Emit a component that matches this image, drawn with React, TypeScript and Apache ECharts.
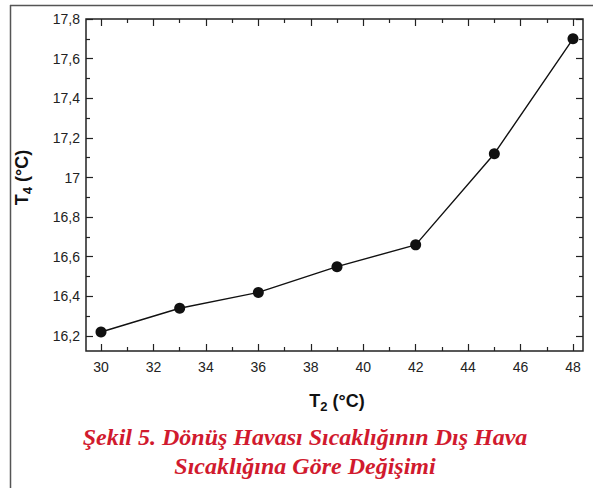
import React, { useEffect, useRef } from "react";
import * as echarts from "echarts";

const xValues = [30, 33, 36, 39, 42, 45, 48];
const yValues = [16.22, 16.34, 16.42, 16.55, 16.66, 17.12, 17.7];
const captionLines = [
  "Şekil 5. Dönüş Havası Sıcaklığının Dış Hava",
  "Sıcaklığına Göre Değişimi",
];

const fmtY = (v: number) => {
  const r = Math.round(v * 10) / 10;
  return (Number.isInteger(r) ? String(r) : r.toFixed(1)).replace(".", ",");
};

export default function App() {
  const ref = useRef<HTMLDivElement>(null);
  useEffect(() => {
    const chart = echarts.init(ref.current!, null, { renderer: "svg" });
    const tickStyle = { color: "#222", width: 1.2 };
    const labelFont = { fontFamily: "Liberation Sans", fontSize: 14, color: "#222" };
    const nameRich = {
      a: { fontFamily: "Liberation Sans", fontSize: 18, fontWeight: "bold", color: "#111", lineHeight: 24, verticalAlign: "middle" },
      b: { fontFamily: "Liberation Sans", fontSize: 13, fontWeight: "bold", color: "#111", lineHeight: 24, verticalAlign: "bottom", padding: [7, 0, 0, 0] },
    };
    chart.setOption({
      animation: false,
      grid: { left: 101, right: 20, top: 19, bottom: 152 },
      xAxis: [
        {
          type: "value",
          min: 30,
          max: 48,
          interval: 2,
          position: "bottom",
          offset: 15,
          axisLine: { show: false },
          axisTick: { show: true, inside: true, length: 7, lineStyle: tickStyle },
          minorTick: { show: true, splitNumber: 2, length: 4, lineStyle: tickStyle },
          splitLine: { show: false },
          axisLabel: { ...labelFont, margin: 9 },
          name: "{a|T}{b|2}{a| (°C)}",
          nameLocation: "middle",
          nameGap: 38,
          nameTextStyle: { rich: nameRich },
        },
        {
          type: "value",
          min: 30,
          max: 48,
          interval: 2,
          position: "top",
          axisLine: { show: false },
          axisTick: { show: true, inside: true, length: 7, lineStyle: tickStyle },
          minorTick: { show: true, splitNumber: 2, length: 4, lineStyle: tickStyle },
          splitLine: { show: false },
          axisLabel: { show: false },
        },
      ],
      yAxis: [
        {
          type: "value",
          min: 16.2,
          max: 17.8,
          interval: 0.2,
          position: "left",
          offset: 15,
          axisLine: { show: false },
          axisTick: { show: true, inside: true, length: 7, lineStyle: tickStyle },
          minorTick: { show: true, splitNumber: 2, length: 4, lineStyle: tickStyle },
          splitLine: { show: false },
          axisLabel: { ...labelFont, margin: 6, formatter: fmtY },
          name: "{a|T}{b|4}{a| (°C)}",
          nameLocation: "middle",
          nameGap: 52,
          nameRotate: 90,
          nameTextStyle: { rich: nameRich },
        },
        {
          type: "value",
          min: 16.2,
          max: 17.8,
          interval: 0.2,
          position: "right",
          offset: 10,
          axisLine: { show: false },
          axisTick: { show: true, inside: true, length: 7, lineStyle: tickStyle },
          minorTick: { show: true, splitNumber: 2, length: 4, lineStyle: tickStyle },
          splitLine: { show: false },
          axisLabel: { show: false },
        },
      ],
      series: [
        {
          type: "line",
          data: xValues.map((x, i) => [x, yValues[i]]),
          symbol: "circle",
          symbolSize: 11,
          itemStyle: { color: "#111" },
          lineStyle: { color: "#111", width: 1.4 },
        },
      ],
      graphic: [
        { type: "rect", shape: { x: 86, y: 19, width: 497, height: 332 }, style: { fill: "none", stroke: "#222", lineWidth: 1.5 }, silent: true },
        { type: "line", shape: { x1: 10, y1: 5.5, x2: 593, y2: 5.5 }, style: { stroke: "#555", lineWidth: 1.5 } },
        { type: "line", shape: { x1: 10.5, y1: 5, x2: 10.5, y2: 488 }, style: { stroke: "#555", lineWidth: 1.5 } },
        ...captionLines.map((t, i) => ({
          type: "text",
          x: 305,
          y: 437 + i * 29,
          style: {
            text: t,
            fontFamily: "Liberation Serif",
            fontStyle: "italic",
            fontWeight: "bold",
            fontSize: 24,
            fill: "#d11a2e",
            align: "center",
            verticalAlign: "middle",
          },
        })),
      ],
    });
    return () => chart.dispose();
  }, []);
  return <div ref={ref} style={{ width: 593, height: 488, position: "absolute", left: 0, top: 0 }} />;
}
